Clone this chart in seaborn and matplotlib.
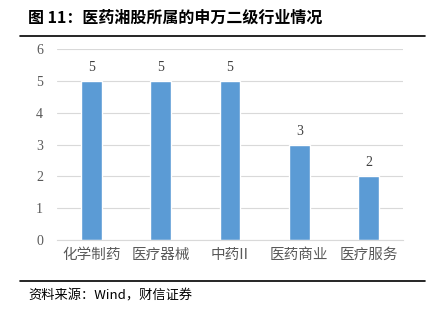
import matplotlib
matplotlib.use("Agg")
import matplotlib.pyplot as plt
import seaborn as sns
import pandas as pd
from matplotlib.lines import Line2D

categories = ["化学制药", "医疗器械", "中药II", "医药商业", "医疗服务"]
values = [5, 5, 5, 3, 2]
yticks = [0, 1, 2, 3, 4, 5, 6]

sns.set_theme(style="white")
plt.rcParams['font.family'] = ['Liberation Serif', 'Noto Sans CJK SC', 'DejaVu Sans']

df = pd.DataFrame({"cat": categories, "val": values})

fig = plt.figure(figsize=(4.36, 3.14), dpi=100)
ax = fig.add_axes([57/436, 1-240/314, (403-57)/436, (240-49)/314])

sns.barplot(data=df, x="cat", y="val", color="#5B9BD5", width=0.30, ax=ax, saturation=1)

ax.set_ylim(0, 6)
ax.set_yticks(yticks)
ax.set_xlim(-0.5, 4.5)
ax.grid(axis="y", color="#D9D9D9", linewidth=0.8)
ax.set_axisbelow(True)
for s in ["top", "right", "left"]:
    ax.spines[s].set_visible(False)
ax.spines["bottom"].set_color("#D9D9D9")
ax.spines["bottom"].set_linewidth(0.8)
ax.set_xlabel("")
ax.set_ylabel("")
ax.tick_params(axis="y", colors="#595959", labelsize=10, length=0, pad=10)
ax.tick_params(axis="x", colors="#595959", labelsize=10.5, length=0, pad=6)
for lbl in ax.get_xticklabels():
    lbl.set_family(['Noto Sans CJK SC', 'DejaVu Sans'])

for c in ax.containers:
    ax.bar_label(c, labels=[str(v) for v in values], padding=5, fontsize=10, color="#404040")

fig.text(28/436, 1-18/314, "图 11：医药湘股所属的申万二级行业情况", fontsize=11.5, fontweight="bold",
         family=['Noto Sans CJK SC', 'DejaVu Sans'], va="center", ha="left", color="black")
fig.add_artist(Line2D([20/436, 425/436], [1-36/314, 1-36/314], color="black", linewidth=1.2,
                      transform=fig.transFigure))
fig.add_artist(Line2D([20/436, 425/436], [1-281/314, 1-281/314], color="black", linewidth=1.2,
                      transform=fig.transFigure))
fig.text(28/436, 1-296/314, "资料来源：Wind，财信证券", fontsize=9.5, style="italic",
         family=['Noto Sans CJK SC', 'DejaVu Sans'], va="center", ha="left", color="black")

fig.savefig("out.png", dpi=100)
